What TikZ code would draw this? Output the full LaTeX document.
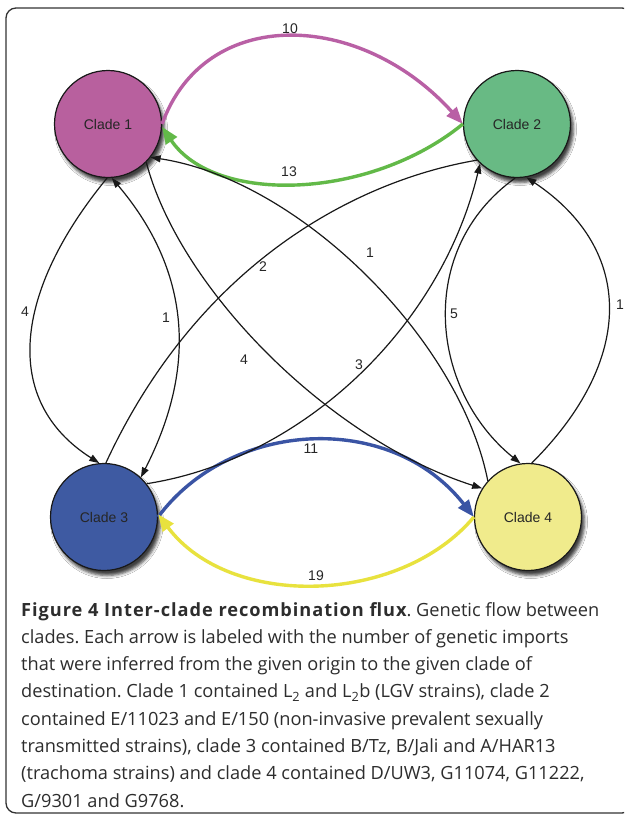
\documentclass[tikz,border=0pt]{standalone}
\usepackage{fontspec}
\usetikzlibrary{arrows.meta,shadows.blur}
\frenchspacing
\newfontfamily\capfont{Open Sans}
\newfontfamily\capbold[LetterSpace=5.3]{Open Sans Bold}
\newfontfamily\lblfont{Liberation Sans}
\definecolor{cOne}{RGB}{184,96,158}
\definecolor{cTwo}{RGB}{104,186,132}
\definecolor{cThree}{RGB}{62,90,162}
\definecolor{cFour}{RGB}{240,235,140}
\definecolor{aOne}{RGB}{185,96,165}
\definecolor{aTwo}{RGB}{98,185,72}
\definecolor{aThree}{RGB}{58,84,164}
\definecolor{aFour}{RGB}{232,226,62}
\definecolor{txt}{RGB}{45,45,45}
\tikzset{
  clade/.style={circle, minimum size=107pt, inner sep=0pt, draw=black!90, line width=1.2pt,
    font=\lblfont\fontsize{14}{16}\selectfont, text=black!85,
    blur shadow={shadow xshift=3pt, shadow yshift=-5pt, shadow blur radius=3pt, shadow opacity=75}},
  thin/.style={draw=black!90, line width=1.2pt, -{Triangle[length=10pt,width=7pt]}},
  thinboth/.style={draw=black!90, line width=1.2pt, {Triangle[length=10pt,width=7pt]}-{Triangle[length=10pt,width=7pt]}},
  plain/.style={draw=black!90, line width=1.2pt},
  thick/.style={line width=3.4pt, -{Triangle[length=17pt,width=13pt]}},
  lbl/.style={font=\lblfont\fontsize{14}{16}\selectfont, text=black!85, inner sep=0pt},
  capline/.style={anchor=base west, inner sep=0pt, font=\capfont\fontsize{18.2}{22}\selectfont, text=txt}
}
\begin{document}
\begin{tikzpicture}[x=1pt,y=-1pt]
\useasboundingbox (0,0) rectangle (624,816);
\clip (0,0) rectangle (624,816);
\fill[white] (0,0) rectangle (624,816);
\draw[line width=1.3pt, draw=black!80, rounded corners=10pt] (6,8) rectangle (632,813);

% nodes
\node[clade, fill=cOne]   (c1) at (108,124) {Clade 1};
\node[clade, fill=cTwo]   (c2) at (517,124) {Clade 2};
\node[clade, fill=cThree] (c3) at (104,517) {Clade 3};
\node[clade, fill=cFour]  (c4) at (528,517) {Clade 4};

% coloured connectors
\draw[thick, draw=aOne]   (c1.east) .. controls (205,5) and (360,10) .. (c2.west);
\draw[thick, draw=aTwo]   (c2.west) .. controls (370,200) and (215,205) .. (c1.-3);
\draw[thick, draw=aThree] (c3.east) .. controls (230,420) and (390,410) .. (c4.west);
\draw[thick, draw=aFour]  (c4.west) .. controls (400,605) and (230,610) .. (c3.3);

% black connectors
\draw[thin]     (c1.-91) .. controls (15,290) and (0,400) .. (c3.95);
\draw[thinboth] (c1.-86) .. controls (215,300) and (175,410) .. (c3.47);
\draw[plain]    (c2.-138) .. controls (360,180) and (200,260) .. (c3.88);
\draw[thin]     (c3.38) .. controls (300,460) and (440,330) .. (c2.-133);
\draw[thin]     (c1.-45) .. controls (180,290) and (330,440) .. (c4.148);
\draw[thin]     (c4.138) .. controls (460,340) and (300,180) .. (c1.-38);
\draw[thin]     (c2.-92) .. controls (415,250) and (430,390) .. (c4.98);
\draw[thin]     (c4.86) .. controls (635,360) and (635,250) .. (c2.-80);

% labels
\node[lbl] (l10) at (290,29) {10};
\node[lbl] (l13) at (289,172) {13};
\node[lbl] (l2)  at (263,267) {2};
\node[lbl] (l1a) at (370,253) {1};
\node[lbl] (l4a) at (25,312) {4};
\node[lbl] (l1b) at (166,318) {1};
\node[lbl] (l5)  at (454,314) {5};
\node[lbl] (l1c) at (620,305) {1};
\node[lbl] (l4b) at (244,360) {4};
\node[lbl] (l3)  at (359,365) {3};
\node[lbl] (l11) at (311,449) {11};
\node[lbl] (l19) at (316,576) {19};

% caption
\node[capline] (cap1) at (21,616) {{\capbold Figure 4 Inter-clade recombination flux}. Genetic flow between};
\node[capline] (cap2) at (21,643.3) {clades. Each arrow is labeled with the number of genetic imports};
\node[capline] (cap3) at (21,670.6) {that were inferred from the given origin to the given clade of};
\node[capline] (cap4) at (21,697.9) {destination. Clade 1 contained L\textsubscript{2} and L\textsubscript{2}b (LGV strains), clade 2};
\node[capline] (cap5) at (21,725.2) {contained E/11023 and E/150 (non-invasive prevalent sexually};
\node[capline] (cap6) at (21,752.5) {transmitted strains), clade 3 contained B/Tz, B/Jali and A/HAR13};
\node[capline] (cap7) at (21,779.8) {(trachoma strains) and clade 4 contained D/UW3, G11074, G11222,};
\node[capline] (cap8) at (21,807.1) {G/9301 and G9768.};
\end{tikzpicture}
\end{document}
